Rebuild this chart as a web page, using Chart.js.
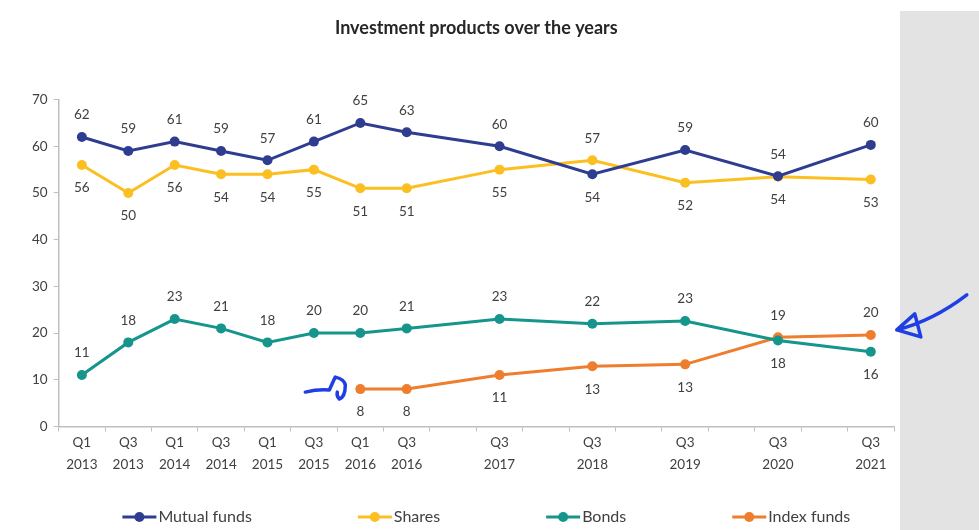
<!DOCTYPE html>
<html lang="en">
<head>
  <meta charset="UTF-8" />
  <title>Investment products over the years</title>
  <script src="https://cdn.jsdelivr.net/npm/chart.js"></script>
  <style>
    body { margin: 0; background: #fff; }
    #wrap { position: relative; width: 979px; height: 530px; }
    #side { position: absolute; left: 900px; top: 11px; width: 79px; height: 519px; background: #e3e3e3; }
    canvas { position: absolute; left: 0; top: 0; }
  </style>
</head>
<body>
<div id="wrap">
  <div id="side"></div>
  <canvas id="investChart" width="979" height="530"></canvas>
</div>
<script>
  // half-year slots, the Q1 slots from 2017 on have no survey
  const periods = [
    ["Q1", "2013"], ["Q3", "2013"], ["Q1", "2014"], ["Q3", "2014"],
    ["Q1", "2015"], ["Q3", "2015"], ["Q1", "2016"], ["Q3", "2016"],
    "", ["Q3", "2017"], "", ["Q3", "2018"], "", ["Q3", "2019"],
    "", ["Q3", "2020"], "", ["Q3", "2021"]
  ];
  const mutualFunds = [62, 59, 61, 59, 57, 61, 65, 63, null, 60, null, 54, null, 59.2, null, 53.6, null, 60.3];
  const shares      = [56, 50, 56, 54, 54, 55, 51, 51, null, 55, null, 57, null, 52.2, null, 53.5, null, 52.9];
  const bonds       = [11, 18, 23, 21, 18, 20, 20, 21, null, 23, null, 22, null, 22.6, null, 18.4, null, 16];
  const indexFunds  = [null, null, null, null, null, null, 8, 8, null, 11, null, 12.9, null, 13.3, null, 19.1, null, 19.6];

  const FONT = "Lato, 'Open Sans', sans-serif";
  const TEXT = "#404040";
  const AXIS = "#bfbfbf";

  function series(label, data, color, partner) {
    return {
      label, data, partner,
      borderColor: color,
      backgroundColor: color,
      borderWidth: 3,
      pointRadius: 5,
      pointHoverRadius: 5,
      pointBorderWidth: 0,
      spanGaps: true,
      tension: 0
    };
  }

  // value labels: above the line unless the paired series is higher there
  const valueLabels = {
    id: "valueLabels",
    afterDatasetsDraw(chart) {
      const ctx = chart.ctx;
      ctx.save();
      ctx.font = "13.5px " + FONT;
      ctx.fillStyle = TEXT;
      ctx.textAlign = "center";
      ctx.textBaseline = "middle";
      chart.data.datasets.forEach((ds, i) => {
        const other = chart.data.datasets[ds.partner].data;
        chart.getDatasetMeta(i).data.forEach((pt, j) => {
          const v = ds.data[j];
          if (v == null) return;
          const above = other[j] == null || v >= other[j];
          ctx.fillText(Math.round(v), pt.x, pt.y + (above ? -22 : 23));
        });
      });
      ctx.restore();
    }
  };

  // legend with a line-and-dot marker, spread wide like the original
  const lineLegend = {
    id: "lineLegend",
    afterDraw(chart) {
      const ctx = chart.ctx, area = chart.chartArea;
      const mark = 34, gap = 2, space = 106;
      ctx.save();
      ctx.font = "16px " + FONT;
      const items = chart.data.datasets.map(ds => ({ ds, w: mark + gap + ctx.measureText(ds.label).width }));
      const total = items.reduce((s, it) => s + it.w, 0) + space * (items.length - 1);
      let x = (area.left + area.right) / 2 + 10 - total / 2;
      const y = chart.height - 13;
      items.forEach(it => {
        ctx.strokeStyle = it.ds.borderColor;
        ctx.fillStyle = it.ds.borderColor;
        ctx.lineWidth = 3;
        ctx.beginPath();
        ctx.moveTo(x, y);
        ctx.lineTo(x + mark, y);
        ctx.stroke();
        ctx.beginPath();
        ctx.arc(x + mark / 2, y, 5, 0, Math.PI * 2);
        ctx.fill();
        ctx.fillStyle = TEXT;
        ctx.textBaseline = "middle";
        ctx.fillText(it.ds.label, x + mark + gap, y);
        x += it.w + space;
      });
      ctx.restore();
    }
  };

  // hand drawn blue arrows pointing at the index funds line
  const arrows = {
    id: "arrows",
    afterDraw(chart) {
      const pts = chart.getDatasetMeta(3).data;
      const first = pts[6], last = pts[17];
      const ctx = chart.ctx;
      ctx.save();
      ctx.strokeStyle = "#1f3fe4";
      ctx.lineWidth = 3.5;
      ctx.lineCap = "round";
      ctx.lineJoin = "round";

      let ox = first.x, oy = first.y;
      ctx.beginPath();
      ctx.moveTo(ox - 55, oy + 3);
      ctx.quadraticCurveTo(ox - 42, oy, ox - 31, oy + 1);
      ctx.lineTo(ox - 26, oy - 10);
      ctx.lineTo(ox - 25, oy - 12);
      ctx.quadraticCurveTo(ox - 16, oy - 10, ox - 15, oy - 4);
      ctx.quadraticCurveTo(ox - 15, oy + 8, ox - 21, oy + 10);
      ctx.quadraticCurveTo(ox - 24, oy + 7, ox - 23, oy + 3);
      ctx.stroke();

      ox = last.x; oy = last.y;
      ctx.beginPath();
      ctx.moveTo(ox + 96, oy - 40);
      ctx.quadraticCurveTo(ox + 62, oy - 14, ox + 26, oy - 5);
      ctx.lineTo(ox + 44, oy - 21);
      ctx.lineTo(ox + 50, oy + 2);
      ctx.lineTo(ox + 26, oy - 5);
      ctx.stroke();
      ctx.restore();
    }
  };

  new Chart(document.getElementById("investChart"), {
    type: "line",
    data: {
      labels: periods,
      datasets: [
        series("Mutual funds", mutualFunds, "#2f3d91", 1),
        series("Shares", shares, "#fbbf22", 0),
        series("Bonds", bonds, "#16958c", 3),
        series("Index funds", indexFunds, "#ee7d2d", 2)
      ]
    },
    plugins: [valueLabels, lineLegend, arrows],
    options: {
      responsive: false,
      animation: false,
      layout: { padding: { left: 26, right: 85, top: 0, bottom: 54 } },
      plugins: {
        legend: { display: false },
        tooltip: { enabled: false },
        title: {
          display: true,
          fullSize: false,
          text: "Investment products over the years",
          color: "#262626",
          font: { family: FONT, size: 18, weight: "bold" },
          padding: { top: 17, bottom: 61 }
        }
      },
      scales: {
        x: {
          offset: true,
          grid: { offset: true, drawOnChartArea: false, tickLength: 5, color: AXIS },
          border: { color: AXIS, width: 1.5 },
          ticks: {
            autoSkip: false, maxRotation: 0, padding: 0,
            color: TEXT, font: { family: FONT, size: 13.5, lineHeight: 1.65 }
          }
        },
        y: {
          min: 0, max: 70,
          grid: { drawOnChartArea: false, tickLength: 5, color: AXIS },
          border: { color: AXIS, width: 1.5 },
          ticks: { stepSize: 10, padding: 6, color: TEXT, font: { family: FONT, size: 13.5 } }
        }
      }
    }
  });
</script>
</body>
</html>
